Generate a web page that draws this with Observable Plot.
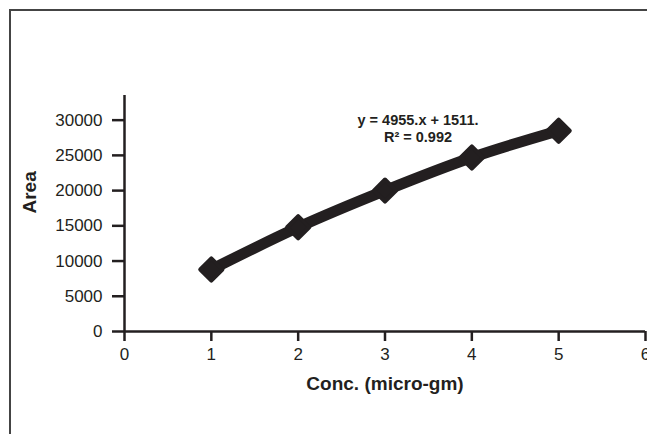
<!DOCTYPE html>
<html>
<head>
<meta charset="utf-8">
<script src="https://cdn.jsdelivr.net/npm/d3@7"></script>
<script src="https://cdn.jsdelivr.net/npm/@observablehq/plot@0.6"></script>
<style>
  html, body { margin: 0; padding: 0; background: #fff; }
  #wrap { position: relative; width: 647px; height: 434px; overflow: hidden; }
  #frame { position: absolute; left: 9px; top: 9px; width: 1000px; height: 1000px;
           border-left: 2px solid #444; border-top: 2px solid #444; }
  #chart { position: absolute; left: 0; top: 0; }
</style>
</head>
<body>
<div id="wrap"><div id="frame"></div><div id="chart"></div></div>
<script>
const conc = [1, 2, 3, 4, 5];
const area = [8800, 14800, 20000, 24700, 28500];
const xTicks = [0, 1, 2, 3, 4, 5, 6];
const yTicks = [0, 5000, 10000, 15000, 20000, 25000, 30000];
const equation = ["y = 4955.x + 1511.", "R\u00b2 = 0.992"];
const xLabel = "Conc. (micro-gm)";
const yLabel = "Area";

const data = conc.map((c, i) => ({c, a: area[i]}));
const ink = "#231f20";

const chart = Plot.plot({
  width: 647,
  height: 434,
  marginLeft: 124,
  marginRight: 2,
  marginTop: 95,
  marginBottom: 103,
  style: {fontFamily: "'Liberation Sans', Arial, sans-serif", color: ink, background: "transparent"},
  x: {domain: [0, 6]},
  y: {domain: [0, 33500]},
  marks: [
    Plot.axisX({ticks: xTicks, tickFormat: d => String(d), tickSize: 10, tickPadding: 6, fontSize: 17, label: null, stroke: ink, strokeWidth: 2.5, fill: ink}),
    Plot.axisY({ticks: yTicks, tickFormat: d => String(d), tickSize: 12, tickPadding: 10, fontSize: 17, label: null, stroke: ink, strokeWidth: 2.5, fill: ink}),
    Plot.ruleY([0], {stroke: ink, strokeWidth: 2.5}),
    Plot.ruleX([0], {y1: 0, y2: 33500, stroke: ink, strokeWidth: 2.5}),
    Plot.line(data, {x: "c", y: "a", stroke: ink, strokeWidth: 11, curve: "catmull-rom"}),
    Plot.dot(data, {x: "c", y: "a", symbol: "diamond2", r: 10, fill: ink, stroke: ink, strokeWidth: 4, strokeLinejoin: "round"}),
    Plot.text([equation.join("\n")], {x: 3.38, y: 28900, text: d => d, fontSize: 14.5, fontWeight: "bold", fill: ink, lineHeight: 1.18, lineAnchor: "middle"}),
    Plot.text([xLabel], {frameAnchor: "bottom", dy: 52, fontSize: 19, fontWeight: "bold", fill: ink, lineAnchor: "middle"}),
    Plot.text([yLabel], {frameAnchor: "left", dx: -95, rotate: -90, fontSize: 19, fontWeight: "bold", fill: ink, lineAnchor: "middle"})
  ]
});
document.getElementById("chart").appendChild(chart);
</script>
</body>
</html>
